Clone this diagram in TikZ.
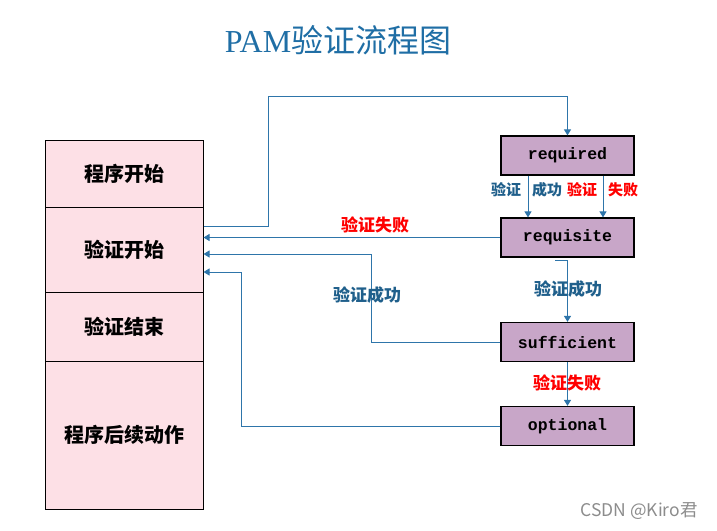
\documentclass[tikz,border=0pt]{standalone}
\usepackage{fontspec}
\setmainfont{Liberation Serif}
\setmonofont{Liberation Mono}
\newfontfamily\cjk{Noto Sans CJK SC}
\usepackage{tikz}
\usetikzlibrary{positioning, calc, arrows.meta}
\usepackage{xcolor}
\definecolor{flowblue}{RGB}{46,117,170}
\definecolor{labelblue}{RGB}{31,95,139}
\definecolor{titleblue}{RGB}{31,110,165}
\definecolor{boxpurple}{RGB}{200,166,200}
\definecolor{boxpink}{RGB}{253,224,230}
\tikzset{stage/.style={draw=black, line width=1pt, fill=boxpink, minimum width=158pt, inner sep=0pt, font=\cjk\bfseries\fontsize{20}{20}\selectfont}}
\tikzset{module/.style={draw=black, line width=1.2pt, fill=boxpurple, minimum width=133pt, minimum height=39pt, inner sep=0pt, font=\ttfamily\bfseries\fontsize{16.5}{16.5}\selectfont}}
\tikzset{flow/.style={draw=flowblue, line width=1pt, -{Triangle[width=7pt,length=6pt]}}}
\tikzset{okmark/.style={text=labelblue, inner sep=0pt, font=\cjk\bfseries\fontsize{17}{17}\selectfont}}
\tikzset{failmark/.style={text=red, inner sep=0pt, font=\cjk\bfseries\fontsize{17}{17}\selectfont}}

\begin{document}
\begin{tikzpicture}[x=1pt, y=-1pt]
      \useasboundingbox (0,0) rectangle (717,530);

      \node[text=titleblue, font=\fontsize{32}{32}\selectfont] (title) at (338,40) {PAM{\cjk 验证流程图}};

      % left column
      \node[stage, minimum height=67pt] (pstart) at (124,173.5) {程序开始};
      \node[stage, minimum height=85pt] (vstart) at (124,249.5) {验证开始};
      \node[stage, minimum height=69pt] (vend) at (124,326.5) {验证结束};
      \node[stage, minimum height=148pt] (pnext) at (124,435) {程序后续动作};

      % modules
      \node[module] (reqd) at (567.5,155.5) {required};
      \node[module] (reqs) at (567.5,237.5) {requisite};
      \node[module] (suff) at (567.5,342) {sufficient};
      \node[module] (opt) at (567.5,426) {optional};

      \draw[flow] ([yshift=23.5pt]vstart.east) -- ++(65,0) |- ([yshift=39pt]reqd.north) -- (reqd.north);
      \draw[flow] ([xshift=-39.5pt]reqd.south) -- ([xshift=-39.5pt]reqs.north);
      \draw[flow] ([xshift=35.5pt]reqd.south) -- ([xshift=35.5pt]reqs.north);
      \draw[flow] (reqs.west) -- (reqs.west -| vstart.east);
      \draw[flow] ([xshift=-12.5pt,yshift=-3pt]reqs.south) -| (suff.north);
      \draw[flow] (suff.west) -- ++(-129,0) |- ([yshift=-4.5pt]vstart.east);
      \draw[flow] (suff.south) -- (opt.north);
      \draw[flow] (opt.west) -- ++(-259,0) |- ([yshift=-22.5pt]vstart.east);

      % labels
      \node[okmark, font=\cjk\bfseries\fontsize{15}{15}\selectfont] (okA) at (506,190) {验证};
      \node[okmark, font=\cjk\bfseries\fontsize{15}{15}\selectfont] (okB) at (547,190) {成功};
      \node[failmark, font=\cjk\bfseries\fontsize{15}{15}\selectfont] (failA) at (582,190) {验证};
      \node[failmark, font=\cjk\bfseries\fontsize{15}{15}\selectfont] (failB) at (623,190) {失败};
      \node[failmark] (fail1) at (375,225) {验证失败};
      \node[okmark] (ok1) at (367,295) {验证成功};
      \node[okmark] (ok2) at (568,289) {验证成功};
      \node[failmark] (fail2) at (567,383) {验证失败};

      \node[text=black!45, font=\cjk\fontsize{17.5}{17.5}\selectfont] (mark) at (639,511) {CSDN @Kiro君};
\end{tikzpicture}
\end{document}
